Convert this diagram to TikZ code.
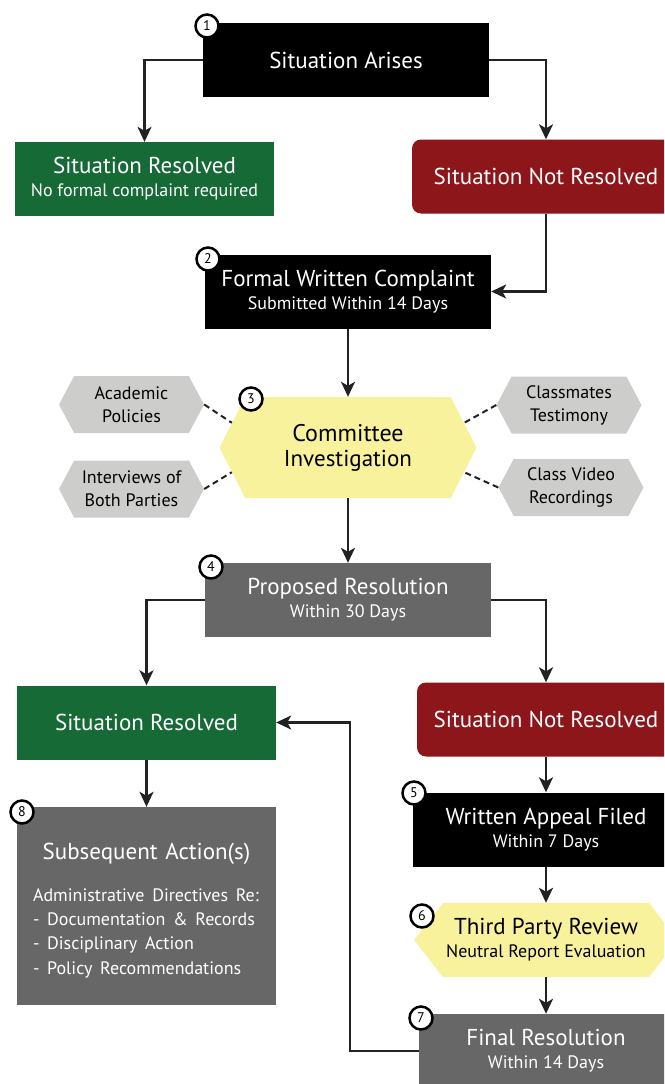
\documentclass[tikz,border=0pt]{standalone}
\usepackage{fontspec}
\setmainfont{PT Sans}
\usetikzlibrary{arrows.meta, positioning, shapes.symbols, calc}
\definecolor{resgreen}{HTML}{156A36}
\definecolor{openred}{HTML}{8C1619}
\definecolor{procgray}{HTML}{666766}
\definecolor{hexgray}{HTML}{CDCDCB}
\definecolor{hexyellow}{HTML}{F8F29D}
\definecolor{wire}{HTML}{222222}
\newcommand{\mainsize}{\fontsize{23}{25}\selectfont}
\newcommand{\subsize}{\fontsize{18}{24}\selectfont}
\newcommand{\sublabel}[1]{{\subsize #1}}
\tikzset{
  block/.style={rectangle, minimum height=74pt, inner sep=0pt, align=center, text=white, font=\mainsize},
  darkblock/.style={block, fill=black, minimum width=286pt},
  goodblock/.style={block, fill=resgreen, minimum width=259pt},
  badblock/.style={block, fill=openred, rounded corners=9pt},
  procblock/.style={block, fill=procgray},
  yellowhex/.style={signal, signal to=east and west, fill=hexyellow, inner sep=0pt, align=center, text=black, font=\mainsize},
  grayhex/.style={signal, signal to=east and west, fill=hexgray, minimum width=145pt, minimum height=57pt, signal pointer angle=124, inner sep=0pt, align=center, text=black, font=\fontsize{18}{23}\selectfont},
  badge/.style={circle, draw=black, line width=2.5pt, fill=white, minimum size=23pt, inner sep=0pt, font=\fontsize{14}{14}\selectfont},
  flow/.style={-{Stealth[length=15pt, width=14pt, inset=4pt]}, line width=2.2pt, draw=wire},
  link/.style={line width=2pt, draw=wire, dash pattern=on 6pt off 4pt},
}
\begin{document}
\begin{tikzpicture}[x=1pt, y=-1pt]
  \useasboundingbox (0,0) rectangle (664,1084);
  \clip (0,0) rectangle (664,1084);

  \node[darkblock] (arise) at (346,60) {Situation Arises};
  \node[goodblock] (resolved) at (144.5,179) {Situation Resolved\\[-2pt]\sublabel{No formal complaint required}};
  \node[badblock, minimum width=268pt] (open) at (546,176.5) {Situation Not Resolved};
  \node[darkblock] (complaint) at (348,291.5) {Formal Written Complaint\\[-2pt]\sublabel{Submitted Within 14 Days}};

  \node[yellowhex, minimum width=257pt, minimum height=101pt, signal pointer angle=126] (committee) at (348,447.5) {\fontsize{24}{28}\selectfont Committee\\Investigation};
  \node[grayhex] (policies) at (131.5,404.5) {Academic\\Policies};
  \node[grayhex] (interviews) at (131.5,489) {Interviews of\\Both Parties};
  \node[grayhex] (testimony) at (569,405) {Classmates\\Testimony};
  \node[grayhex] (video) at (571,487.5) {Class Video\\Recordings};

  \node[procblock, minimum width=286pt] (proposal) at (348,600) {Proposed Resolution\\[-2pt]\sublabel{Within 30 Days}};
  \node[goodblock] (resolved2) at (146.5,722.5) {Situation Resolved};
  \node[badblock, minimum width=258pt] (open2) at (546,719.5) {Situation Not Resolved};
  \node[procblock, minimum width=259pt, minimum height=198pt, text width=227pt, align=left] (actions) at (146.5,906)
    {\makebox[\linewidth][c]{\rule{0pt}{26pt}Subsequent Action(s)}\\[18pt]
     \subsize Administrative Directives Re:\\
     - Documentation \& Records\\
     - Disciplinary Action\\
     - Policy Recommendations};
  \node[darkblock, minimum width=266pt] (appeal) at (546,829.5) {Written Appeal Filed\\[-2pt]\sublabel{Within 7 Days}};
  \node[yellowhex, minimum width=264pt, minimum height=74pt, signal pointer angle=104] (review) at (546,940) {Third Party Review\\[-2pt]\sublabel{Neutral Report Evaluation}};
  \node[procblock, minimum width=254pt] (final) at (546,1051) {Final Resolution\\[-2pt]\sublabel{Within 14 Days}};

  \draw[flow] (arise.west) -| (resolved.north);
  \draw[flow] (arise.east) -| (open.north);
  \draw[flow] (open.south) |- (complaint.east);
  \draw[flow] (complaint.south) -- (committee.north);
  \draw[link] (policies.east) -- (committee.168);
  \draw[link] (interviews.east) -- (committee.192);
  \draw[link] (testimony.west) -- (committee.12);
  \draw[link] (video.west) -- (committee.-12);
  \draw[flow] (committee.south) -- (proposal.north);
  \draw[flow] (proposal.west) -| (resolved2.north);
  \draw[flow] (proposal.east) -| (open2.north);
  \draw[flow] (resolved2.south) -- (actions.north);
  \draw[flow] (open2.south) -- (appeal.north);
  \draw[flow] (appeal.south) -- (review.north);
  \draw[flow] (review.south) -- (final.north);
  \draw[flow] (final.west) -- ++(-69,0) |- (resolved2.east);

  \node[badge] (b1) at (207,26) {1};
  \node[badge] (b2) at (208,259) {2};
  \node[badge] (b3) at (251,399) {3};
  \node[badge] (b4) at (211,567) {4};
  \node[badge] (b5) at (414,793) {5};
  \node[badge] (b6) at (422,916) {6};
  \node[badge] (b7) at (421,1018) {7};
  \node[badge] (b8) at (22,812) {8};
\end{tikzpicture}
\end{document}
